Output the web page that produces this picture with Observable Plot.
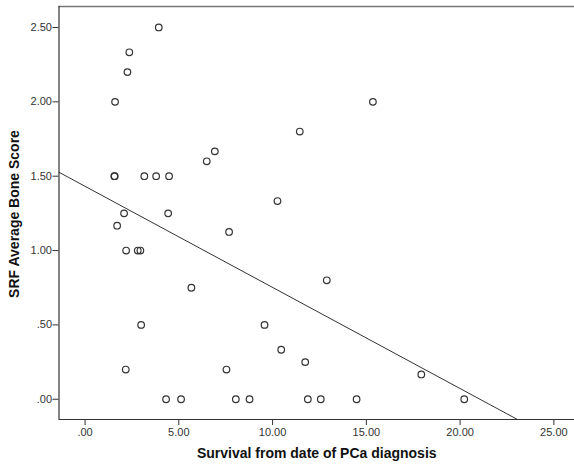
<!DOCTYPE html>
<html>
<head>
<meta charset="utf-8">
<script src="https://cdn.jsdelivr.net/npm/d3@7"></script>
<script src="https://cdn.jsdelivr.net/npm/@observablehq/plot@0.6"></script>
<style>
  html, body { margin: 0; padding: 0; background: #fff; }
  #chart svg { display: block; }
</style>
</head>
<body>
<div id="chart"></div>
<script>
// Survival (years) since PCa diagnosis vs. SRF average bone score
const survival = [
  3.93, 2.36, 2.26, 1.60, 1.56, 1.58, 3.16, 3.79, 4.48, 2.08, 4.43, 1.71,
  2.19, 2.81, 2.95, 5.67, 2.99, 2.17, 4.32, 5.12, 15.35, 11.45, 6.92, 6.49,
  10.26, 7.68, 12.89, 9.57, 10.46, 7.54, 11.74, 8.04, 8.77, 11.88, 12.57,
  14.48, 17.93, 20.22
];
const boneScore = [
  2.50, 2.333, 2.20, 2.00, 1.50, 1.50, 1.50, 1.50, 1.50, 1.25, 1.25, 1.167,
  1.00, 1.00, 1.00, 0.75, 0.50, 0.20, 0.00, 0.00, 2.00, 1.80, 1.667, 1.60,
  1.333, 1.125, 0.80, 0.50, 0.333, 0.20, 0.25, 0.00, 0.00, 0.00, 0.00,
  0.00, 0.167, 0.00
];

// Linear fit line: score = intercept + slope * survival
const fitIntercept = 1.432;
const fitSlope = -0.068;

const xTicks = [0, 5, 10, 15, 20, 25];
const yTicks = [0, 0.5, 1.0, 1.5, 2.0, 2.5];
const xDomain = [-1.39, 26.1];
const yDomain = [-0.136, 2.641];

const points = survival.map((s, i) => ({survival: s, score: boneScore[i]}));

// Fit line spans from the left edge of the frame to where it meets the bottom
const xEnd = Math.min(xDomain[1], (yDomain[0] - fitIntercept) / fitSlope);
const fitLine = [xDomain[0], xEnd].map(x => ({survival: x, score: fitIntercept + fitSlope * x}));

const fmt = d => d3.format(".2f")(d).replace(/^0\./, ".");

const chart = Plot.plot({
  width: 574,
  height: 466,
  marginLeft: 58.5,
  marginRight: 0,
  marginTop: 6,
  marginBottom: 47,
  style: {fontFamily: "Arial, 'Liberation Sans', sans-serif", background: "#fff"},
  x: {domain: xDomain},
  y: {domain: yDomain},
  marks: [
    Plot.axisX({ticks: xTicks, tickFormat: fmt, tickSize: 6, tickPadding: 3,
      fontSize: 11, color: "#333", stroke: "#333", label: null}),
    Plot.axisY({ticks: yTicks, tickFormat: fmt, tickSize: 6, tickPadding: 1,
      fontSize: 11, color: "#333", stroke: "#333", label: null}),
    // frame edges
    Plot.ruleY([yDomain[0]], {stroke: "#333", strokeWidth: 1.2}),
    Plot.ruleY([yDomain[1]], {stroke: "#777", strokeWidth: 1.5}),
    Plot.ruleX([xDomain[0]], {stroke: "#333", strokeWidth: 1.2}),
    Plot.line(fitLine, {x: "survival", y: "score", stroke: "#333", strokeWidth: 1}),
    Plot.dot(points, {x: "survival", y: "score", r: 3.3, stroke: "#333", strokeWidth: 1.2, fill: "none"}),
    Plot.text(["Survival from date of PCa diagnosis"], {frameAnchor: "bottom", lineAnchor: "middle",
      textAnchor: "middle", dy: 34, fontSize: 14, fontWeight: "bold", fill: "#111"}),
    Plot.text(["SRF Average Bone Score"], {frameAnchor: "left", lineAnchor: "middle",
      textAnchor: "middle", dx: -44, dy: 1, rotate: -90,
      fontSize: 14, fontWeight: "bold", fill: "#111"})
  ]
});

document.getElementById("chart").appendChild(chart);
</script>
</body>
</html>
